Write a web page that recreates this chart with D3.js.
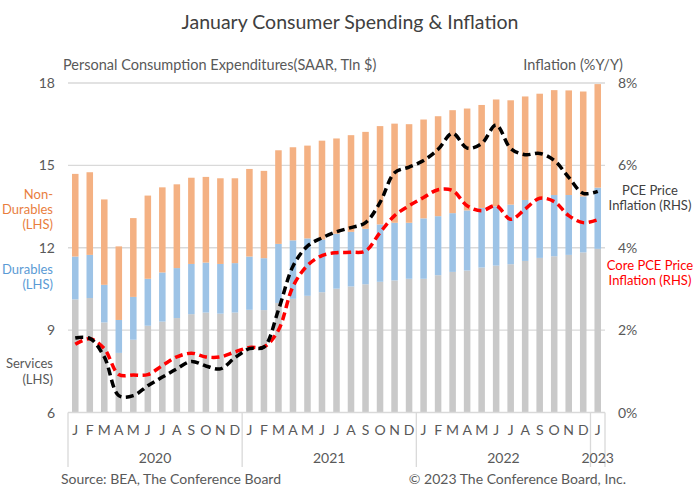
<!DOCTYPE html>
<html><head><meta charset="utf-8">
<script src="https://cdn.jsdelivr.net/npm/d3@7"></script>
<style>
html,body{margin:0;padding:0;background:#fff;}
svg{display:block;font-family:Lato,"Open Sans",sans-serif;}
</style></head>
<body><svg id="c" width="700" height="488"></svg>
<script>
const months = ["J","F","M","A","M","J","J","A","S","O","N","D","J","F","M","A","M","J","J","A","S","O","N","D","J","F","M","A","M","J","J","A","S","O","N","D","J"];
const years = [{label:"2020",start:0,end:12},{label:"2021",start:12,end:24},{label:"2022",start:24,end:36},{label:"2023",start:36,end:37}];
const services =    [10.12,10.17,9.28,8.17,8.65,9.16,9.31,9.44,9.58,9.64,9.60,9.64,9.74,9.73,9.99,10.14,10.25,10.38,10.51,10.59,10.67,10.76,10.81,10.87,10.87,11.00,11.12,11.17,11.28,11.35,11.40,11.52,11.63,11.69,11.74,11.83,11.96];
const durables =    [1.56,1.57,1.37,1.20,1.56,1.71,1.79,1.82,1.83,1.82,1.81,1.80,1.94,1.89,2.15,2.13,2.09,1.92,2.00,1.99,2.02,2.09,2.10,2.04,2.20,2.15,2.14,2.19,2.17,2.16,2.17,2.22,2.18,2.23,2.18,2.04,2.23];
const nondurables = [3.01,3.01,3.11,2.68,2.87,3.03,3.10,3.05,3.14,3.12,3.12,3.09,3.19,3.18,3.41,3.39,3.38,3.60,3.47,3.52,3.53,3.58,3.61,3.59,3.60,3.64,3.75,3.71,3.75,3.89,3.80,3.77,3.80,3.82,3.81,3.82,3.77];
const pce =  [1.81,1.80,1.35,0.41,0.41,0.65,0.86,1.06,1.24,1.13,1.06,1.33,1.55,1.59,2.49,3.55,4.04,4.24,4.39,4.49,4.61,5.10,5.82,5.96,6.12,6.39,6.78,6.42,6.53,6.98,6.41,6.26,6.29,6.12,5.71,5.32,5.37];
const core = [1.66,1.79,1.55,0.92,0.91,0.92,1.14,1.35,1.44,1.35,1.35,1.47,1.58,1.59,2.00,3.06,3.57,3.81,3.88,3.89,3.92,4.37,4.78,5.02,5.22,5.41,5.39,5.02,4.90,5.02,4.69,4.94,5.20,5.12,4.78,4.61,4.68];
const leftTicks = [6,9,12,15,18];
const rightTicks = [0,2,4,6,8];

const svg = d3.select("#c");
const L = 68, R = 605, T = 83, B = 412.5;
const idx = d3.range(months.length);
const x = d3.scaleBand().domain(idx).range([L,R]).paddingInner(0.55).paddingOuter(0.275);
const y = d3.scaleLinear().domain([6,18]).range([B,T]);
const yR = d3.scaleLinear().domain([0,8]).range([B,T]);
const txt = "#595959";

// gridlines
svg.append("g").selectAll("line").data(leftTicks.slice(1)).join("line")
  .attr("x1",L).attr("x2",R).attr("y1",d=>y(d)).attr("y2",d=>y(d))
  .attr("stroke","#d9d9d9").attr("stroke-width",1.3);

// stacked bars
const rows = idx.map(i=>({i, services:services[i], durables:durables[i], nondurables:nondurables[i]}));
const stack = d3.stack().keys(["services","durables","nondurables"])(rows);
const colors = {services:"#c9c9c9", durables:"#9dc3e6", nondurables:"#f4b183"};
svg.append("g").selectAll("g").data(stack).join("g").attr("fill",s=>colors[s.key])
  .selectAll("rect").data(s=>s).join("rect")
  .attr("x",d=>x(d.data.i)).attr("width",x.bandwidth())
  .attr("y",d=>y(d[1])).attr("height",d=>y(Math.max(6,d[0]))-y(d[1]));

// bottom axis
const ax = svg.append("g").attr("stroke","#d9d9d9").attr("stroke-width",1.3);
ax.append("line").attr("x1",L).attr("x2",R).attr("y1",B).attr("y2",B);
const bounds = [0,12,24,36,37];
ax.selectAll("line.d").data(bounds).join("line").attr("class","d")
  .attr("x1",d=>d===37?R:x.step()*d+L).attr("x2",d=>d===37?R:x.step()*d+L)
  .attr("y1",B).attr("y2",467);

// month labels
svg.append("g").selectAll("text").data(idx).join("text")
  .attr("x",i=>x(i)+x.bandwidth()/2).attr("y",435).attr("text-anchor","middle")
  .attr("font-size",14).attr("fill",txt).text(i=>months[i]);
svg.append("g").selectAll("text").data(years).join("text")
  .attr("x",d=>L+x.step()*(d.start+d.end)/2).attr("y",463).attr("text-anchor","middle")
  .attr("font-size",14).attr("fill",txt).text(d=>d.label);

// left / right tick labels
svg.append("g").selectAll("text").data(leftTicks).join("text")
  .attr("x",55).attr("y",d=>y(d)+5).attr("text-anchor","end")
  .attr("font-size",14).attr("fill",txt).text(d=>d);
svg.append("g").selectAll("text").data(rightTicks).join("text")
  .attr("x",618).attr("y",d=>yR(d)+5).attr("text-anchor","start")
  .attr("font-size",14).attr("fill",txt).text(d=>d+"%");

// lines
const line = d3.line().x((d,i)=>x(i)+x.bandwidth()/2).y(d=>yR(d)).curve(d3.curveCatmullRom.alpha(0.5));
svg.append("path").datum(core).attr("d",line).attr("fill","none")
  .attr("stroke","#ff0000").attr("stroke-width",3.5).attr("stroke-dasharray","8,4.5");
svg.append("path").datum(pce).attr("d",line).attr("fill","none")
  .attr("stroke","#000").attr("stroke-width",3.5).attr("stroke-dasharray","8,4.5");

// titles
svg.append("text").attr("x",350).attr("y",29).attr("text-anchor","middle")
  .attr("font-size",19.5).attr("fill","#404040").text("January Consumer Spending & Inflation");
svg.append("text").attr("x",63).attr("y",70).attr("font-size",14.5).attr("fill",txt)
  .text("Personal Consumption Expenditures(SAAR, Tln $)");
svg.append("text").attr("x",623).attr("y",70).attr("text-anchor","end").attr("font-size",14.5).attr("fill",txt)
  .text("Inflation (%Y/Y)");

// series labels
function multi(lines, xx, y0, dy, color, anchor){
  const t = svg.append("text").attr("font-size",13).attr("fill",color).attr("text-anchor",anchor);
  lines.forEach((s,k)=>t.append("tspan").attr("x",xx).attr("y",y0+k*dy).text(s));
}
multi(["Non-","Durables","(LHS)"],53,199,15,"#e97e3e","end");
multi(["Durables","(LHS)"],53,274,15,"#5b9bd5","end");
multi(["Services","(LHS)"],53,368,16,txt,"end");
multi(["PCE Price","Inflation (RHS)"],650,195,15,"#404040","middle");
multi(["Core PCE Price","Inflation (RHS)"],650,270,15,"#ff0000","middle");

// footer
svg.append("text").attr("x",61).attr("y",484).attr("font-size",14).attr("fill",txt)
  .text("Source: BEA, The Conference Board");
svg.append("text").attr("x",626).attr("y",484).attr("text-anchor","end").attr("font-size",14).attr("fill",txt)
  .text("© 2023 The Conference Board, Inc.");
</script></body></html>
